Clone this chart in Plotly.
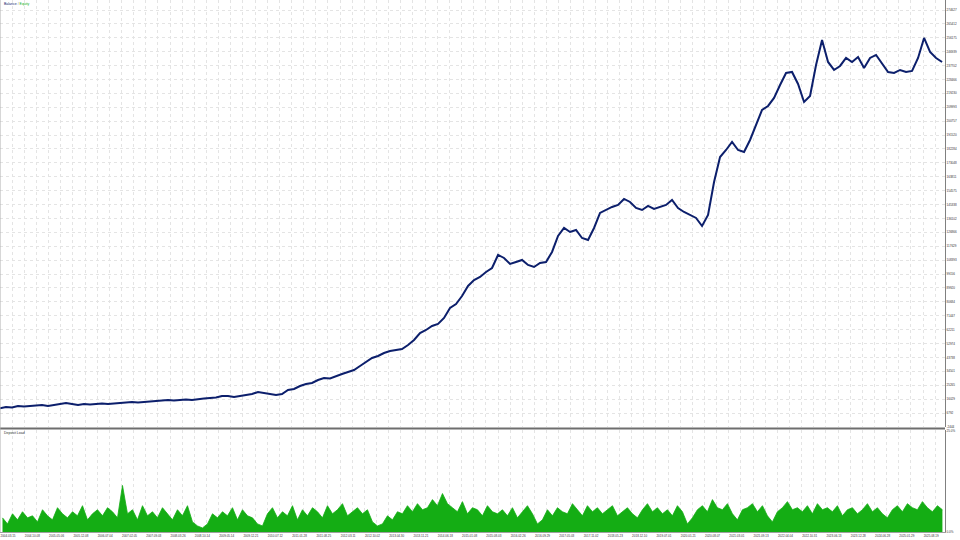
import numpy as np
import plotly.graph_objects as go

# ---------------- data ----------------
equity = [
    10000, 10850, 10500, 11510, 11180, 11510, 11840, 12180, 11510, 12180,
    12840, 13500, 12840, 12180, 12840, 12510, 12840, 13170, 12840, 13170,
    13500, 13840, 14170, 13840, 14170, 14500, 14500, 14830, 15500, 15170,
    15500, 15830, 15500, 16160, 16490, 16830, 17160, 18160, 18160, 17490,
    18160, 18820, 19490, 20810, 20150, 19820, 18820, 19490, 22140, 22810,
    24800, 26130, 26800, 28790, 30120, 29790, 31450, 32780, 34100, 35430,
    38090, 40750, 43410, 44740, 46730, 48060, 48720, 49390, 52050, 55370,
    60020, 62010, 64670, 66000, 69990, 76630, 79290, 84610, 91250, 95240,
    97230, 100550, 103210, 111850, 109860, 105870, 107200, 108530, 105210, 103880,
    106540, 107200, 113850, 124480, 129790, 127130, 128460, 123150, 121820, 129790,
    139760, 141750, 143750, 145080, 149060, 147070, 143080, 141750, 144410, 142420,
    143750, 145080, 148400, 143080, 140420, 138430, 136440, 131120, 138430, 160360,
    176970, 181620, 186940, 181620, 180290, 188270, 198240, 208200, 210860, 216180,
    224810, 232790, 233460, 225480, 213520, 217510, 238110, 254720, 240100, 234780,
    237440, 242760, 240100, 243420, 236110, 242760, 244750, 239430, 233460, 232790,
    234780, 233460, 234120, 242760, 256050, 246740, 242760, 240100,
]

deposit_load = [
    3.5, 2.0, 4.5, 3.0, 5.0, 3.5, 4.0, 2.5, 5.5, 4.0,
    3.0, 6.0, 4.5, 3.5, 5.0, 4.0, 6.5, 3.0, 4.5, 5.5,
    4.0, 6.0, 5.0, 3.5, 11.5, 4.5, 5.5, 3.0, 6.5, 4.0,
    5.0, 3.5, 6.0, 4.5, 3.0, 5.5, 4.0, 6.5, 2.5, 1.5,
    1.0, 2.0, 4.5, 3.5, 5.0, 4.0, 6.0, 3.0, 5.5, 4.0,
    3.5, 2.0, 1.5, 4.5, 6.0, 3.5, 5.0, 4.0, 6.5, 3.0,
    5.5, 4.0, 6.0, 5.0, 3.5, 6.5, 4.5, 5.5, 7.0, 4.0,
    5.0, 6.0, 4.5, 5.5, 2.5, 1.5, 2.0, 4.0, 3.0, 5.0,
    4.5, 6.5, 5.0, 7.0, 5.5, 6.0, 8.0, 6.5, 9.5, 7.0,
    6.0, 5.0, 7.5, 4.5, 6.0, 5.5, 4.0, 6.5, 5.0, 4.5,
    5.5, 4.0, 6.0, 3.5, 5.0, 6.5, 4.5, 2.0, 3.0, 5.5,
    4.0, 6.0, 5.0, 4.5, 7.0, 5.5, 4.0, 6.5, 5.0, 6.0,
    4.5, 5.5, 6.5, 4.0, 5.0, 6.0, 4.5, 3.5, 5.5, 7.0,
    5.0, 6.0, 4.5, 5.5, 4.0, 6.5, 5.0, 2.0, 3.5, 5.5,
    6.5, 5.0, 8.0, 6.0, 5.5, 7.0, 4.5, 3.0, 5.5, 6.0,
    7.0, 5.0, 6.5, 4.0, 2.5, 5.0, 6.0, 7.5, 5.5, 6.0,
    5.0, 6.5, 4.5, 7.0, 5.5, 6.0, 5.0, 6.5, 4.0, 5.5,
    6.0, 4.5, 5.5, 7.0, 5.0, 6.0, 4.5, 3.5, 5.5, 6.5,
    5.0, 7.0, 6.0, 5.5, 7.5, 6.0, 5.0, 6.5, 5.5,
]

date_labels = [
    "2004.03.15", "2004.10.08", "2005.05.06", "2005.12.08", "2006.07.04",
    "2007.02.05", "2007.09.03", "2008.03.26", "2008.10.14", "2009.05.14",
    "2009.12.21", "2010.07.12", "2011.01.28", "2011.08.25", "2012.03.11",
    "2012.10.02", "2013.04.30", "2013.11.21", "2014.06.18", "2015.01.08",
    "2015.08.03", "2016.02.26", "2016.09.29", "2017.05.03", "2017.11.02",
    "2018.05.23", "2018.12.10", "2019.07.01", "2020.01.21", "2020.08.07",
    "2021.03.01", "2021.09.13", "2022.04.04", "2022.10.31", "2023.06.13",
    "2023.12.28", "2024.06.28", "2025.01.29", "2025.08.19",
]

y_ticks = [
    -2444, 6792, 16029, 25265, 34501, 43738, 52974, 62211, 71447, 80684,
    89920, 99156, 108393, 117629, 126866, 136102, 145338, 154575, 163811,
    173048, 182284, 191520, 200757, 209993, 219230, 228466, 237702, 246939,
    256175, 265412, 274627,
]

# deal-number axis (MT5 plots by deal index)
X_MAX = 7780
EQ_STEP = 49.4
LOAD_STEP = 41.16
x_eq = np.arange(len(equity)) * EQ_STEP
x_load = np.arange(len(deposit_load)) * LOAD_STEP + LOAD_STEP / 2
tick_pos = [200 * i for i in range(len(date_labels))]
minor_pos = [100 + 200 * i for i in range(len(date_labels))]

GRID = "#e4e4e4"
FONT = "Liberation Sans"
TXT = "#303030"

fig = go.Figure()
fig.add_trace(go.Scatter(
    x=x_eq, y=equity, mode="lines",
    line=dict(color="#0c1f6c", width=2),
    xaxis="x", yaxis="y", showlegend=False, hoverinfo="skip",
))
fig.add_trace(go.Scatter(
    x=x_load, y=deposit_load, mode="lines", fill="tozeroy",
    line=dict(color="#14ad14", width=0.8), fillcolor="#14ad14",
    xaxis="x2", yaxis="y2", showlegend=False, hoverinfo="skip",
))

main_bottom = (532 - 427) / 532
low_top = (532 - 430) / 532

fig.update_layout(
    width=960, height=540,
    margin=dict(l=0, r=15, t=0, b=8),
    paper_bgcolor="white", plot_bgcolor="white",
    font=dict(family=FONT, size=3, color=TXT),
    xaxis=dict(
        domain=[0, 1], range=[0, X_MAX], anchor="y",
        tickmode="array", tickvals=tick_pos + minor_pos, showticklabels=False,
        showgrid=True, gridcolor=GRID, griddash="dot", gridwidth=1,
        zeroline=False, ticks="",
    ),
    yaxis=dict(
        domain=[main_bottom, 1], range=[-2444, 281271], side="right",
        tickmode="array", tickvals=y_ticks, ticktext=[str(v) for v in y_ticks],
        showgrid=True, gridcolor=GRID, griddash="dot", gridwidth=1,
        zeroline=False, ticks="", showline=True, linecolor="#808080", linewidth=1,
        tickfont=dict(size=3, color=TXT, family=FONT),
    ),
    xaxis2=dict(
        domain=[0, 1], range=[0, X_MAX], anchor="y2",
        tickmode="array", tickvals=tick_pos, ticktext=date_labels,
        ticklabelshift=8,
        showgrid=True, gridcolor=GRID, griddash="dot", gridwidth=1,
        minor=dict(tickvals=minor_pos, showgrid=True, gridcolor=GRID, griddash="dot", gridwidth=1),
        zeroline=False, ticks="", showline=True, linecolor="#a0a0a0", linewidth=1,
        tickfont=dict(size=3, color=TXT, family=FONT), tickangle=0,
    ),
    yaxis2=dict(
        domain=[0, low_top], range=[0, 25.2], side="right",
        tickmode="array", tickvals=[0, 25], ticktext=["0.0%", "25.0%"],
        showgrid=False, zeroline=False, ticks="",
        showline=True, linecolor="#808080", linewidth=1,
        tickfont=dict(size=3, color=TXT, family=FONT),
    ),
    shapes=[
        dict(type="line", xref="paper", yref="paper", x0=0, x1=1,
             y0=(532 - 428.5) / 532, y1=(532 - 428.5) / 532,
             line=dict(color="#6e6e6e", width=2)),
        dict(type="line", xref="paper", yref="paper", x0=0, x1=0, y0=0, y1=1,
             line=dict(color="#b0b0b0", width=1)),
    ],
    annotations=[
        dict(xref="paper", yref="paper", x=0.002, y=1 - 4 / 532, xanchor="left", yanchor="middle",
             showarrow=False,
             text="<span style='color:#0c1f6c'>Balance</span><span style='color:#808080'> / </span><span style='color:#14ad14'>Equity</span>",
             font=dict(size=3.5, family=FONT)),
        dict(xref="paper", yref="paper", x=0.002, y=(532 - 433) / 532, xanchor="left", yanchor="middle",
             showarrow=False, text="Deposit Load",
             font=dict(size=3.5, family=FONT, color=TXT)),
    ],
)

fig.write_html("out.html", config={"displayModeBar": False},
               post_script="document.body.style.margin='0';")
